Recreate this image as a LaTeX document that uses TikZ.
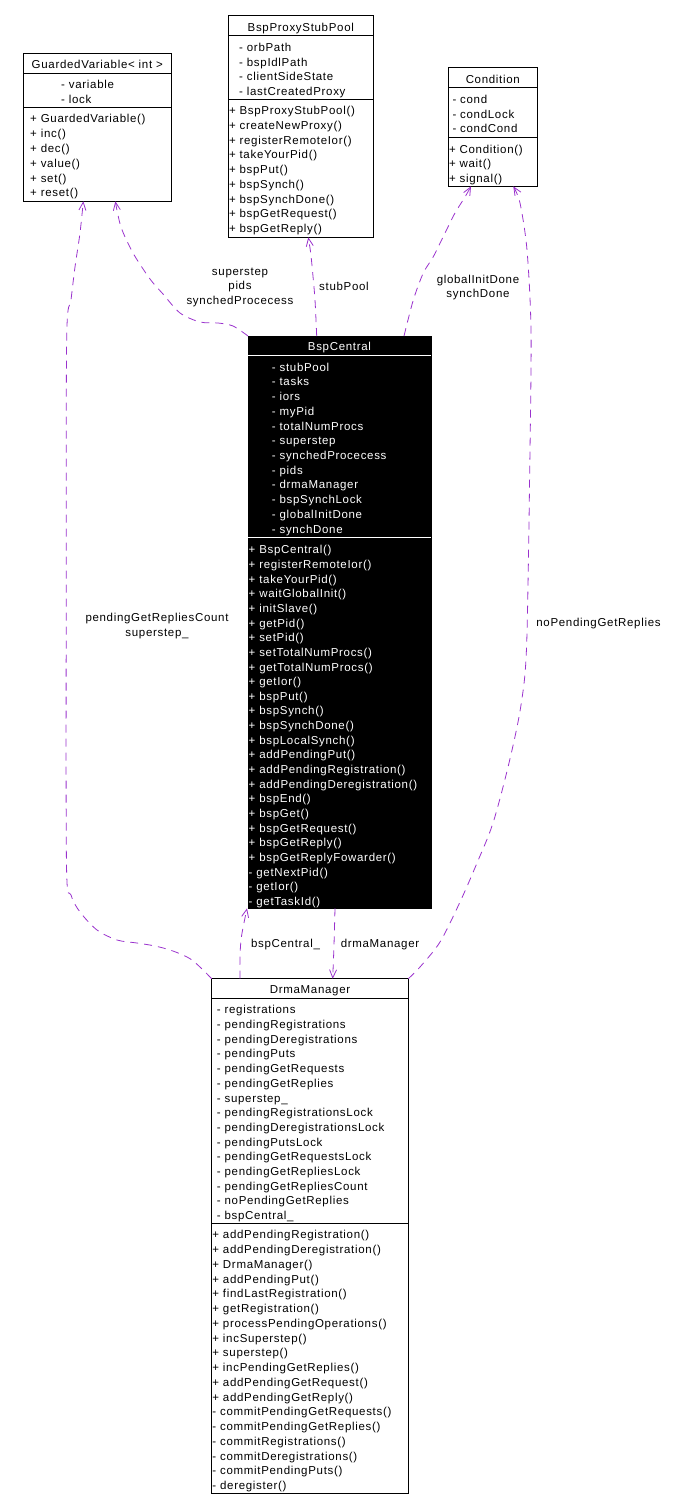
\documentclass[tikz,border=0pt]{standalone}
\usepackage{fontspec}
\setmainfont{Liberation Sans}
\newfontfamily\dfont[LetterSpace=6]{Liberation Sans}
\usetikzlibrary{arrows.meta}
\definecolor{edgec}{HTML}{9A32CD}
\begin{document}
\begin{tikzpicture}[x=1pt,y=-1pt,
  classbox/.style={draw=black, line width=0.9pt, inner sep=0pt, outer sep=0pt, anchor=north west},
  darkbox/.style={classbox, fill=black},
  txt/.style={font=\dfont\fontsize{11.5}{14.5}\selectfont, inner sep=0pt, anchor=base west},
  ttl/.style={txt, anchor=base},
  wtxt/.style={txt, text=white},
  wttl/.style={ttl, text=white},
  sep/.style={draw=black, line width=0.9pt},
  wsep/.style={draw=white, line width=0.9pt},
  elabel/.style={font=\dfont\fontsize{11.5}{14.5}\selectfont, align=center, inner sep=0pt},
  edge/.style={draw=edgec, line width=0.8pt, dash pattern=on 8pt off 6pt,
    -{Straight Barb[length=8pt,width=7pt]}}]
\useasboundingbox (0,0) rectangle (688,1510);

% ---------------- GuardedVariable< int >
\node[classbox, minimum width=148pt, minimum height=148pt] (gv) at (23.3,53.3) {};
\draw[sep] ([yshift=-20.4pt]gv.north west) -- ([yshift=-20.4pt]gv.north east);
\draw[sep] ([yshift=-54.4pt]gv.north west) -- ([yshift=-54.4pt]gv.north east);
\node[ttl] (gv-t) at (97.3,68.5) {GuardedVariable< int >};
\foreach \t [count=\i from 0] in {- variable, - lock}
  \node[txt] (gv-a\i) at (61,{88.8+\i*14.5}) {\t};
\foreach \t [count=\i from 0] in {+ GuardedVariable(), + inc(), + dec(), + value(), + set(), + reset()}
  \node[txt] (gv-m\i) at (30,{122.8+\i*14.8}) {\t};

% ---------------- BspProxyStubPool
\node[classbox, minimum width=145pt, minimum height=222pt] (bp) at (228.3,15.3) {};
\draw[sep] ([yshift=-20pt]bp.north west) -- ([yshift=-20pt]bp.north east);
\draw[sep] ([yshift=-84pt]bp.north west) -- ([yshift=-84pt]bp.north east);
\node[ttl] (bp-t) at (300.8,31.2) {BspProxyStubPool};
\foreach \t [count=\i from 0] in {- orbPath, - bspIdlPath, - clientSideState, - lastCreatedProxy}
  \node[txt] (bp-a\i) at (239,{51.2+\i*14.8}) {\t};
\foreach \t [count=\i from 0] in {+ BspProxyStubPool(), + createNewProxy(), + registerRemoteIor(), + takeYourPid(), + bspPut(), + bspSynch(), + bspSynchDone(), + bspGetRequest(), + bspGetReply()}
  \node[txt] (bp-m\i) at (228.8,{114.5+\i*14.75}) {\t};

% ---------------- Condition
\node[classbox, minimum width=89pt, minimum height=119pt] (cd) at (448.3,67.3) {};
\draw[sep] ([yshift=-20.4pt]cd.north west) -- ([yshift=-20.4pt]cd.north east);
\draw[sep] ([yshift=-69.7pt]cd.north west) -- ([yshift=-69.7pt]cd.north east);
\node[ttl] (cd-t) at (492.8,83.2) {Condition};
\foreach \t [count=\i from 0] in {- cond, - condLock, - condCond}
  \node[txt] (cd-a\i) at (452.3,{103.2+\i*14.8}) {\t};
\foreach \t [count=\i from 0] in {+ Condition(), + wait(), + signal()}
  \node[txt] (cd-m\i) at (448.8,{153.5+\i*14.4}) {\t};

% ---------------- BspCentral
\node[darkbox, minimum width=183pt, minimum height=572.3pt] (bc) at (248,336) {};
\draw[wsep] ([yshift=-19pt]bc.north west) -- ([yshift=-19pt]bc.north east);
\draw[wsep] ([yshift=-201.7pt]bc.north west) -- ([yshift=-201.7pt]bc.north east);
\node[wttl] (bc-t) at (339.5,350.2) {BspCentral};
\foreach \t [count=\i from 0] in {- stubPool, - tasks, - iors, - myPid, - totalNumProcs, - superstep, - synchedProcecess, - pids, - drmaManager, - bspSynchLock, - globalInitDone, - synchDone}
  \node[wtxt] (bc-a\i) at (271.7,{371.2+\i*14.71}) {\t};
\foreach \t [count=\i from 0] in {+ BspCentral(), + registerRemoteIor(), + takeYourPid(), + waitGlobalInit(), + initSlave(), + getPid(), + setPid(), + setTotalNumProcs(), + getTotalNumProcs(), + getIor(), + bspPut(), + bspSynch(), + bspSynchDone(), + bspLocalSynch(), + addPendingPut(), + addPendingRegistration(), + addPendingDeregistration(), + bspEnd(), + bspGet(), + bspGetRequest(), + bspGetReply(), + bspGetReplyFowarder(), - getNextPid(), - getIor(), - getTaskId()}
  \node[wtxt] (bc-m\i) at (248.5,{553.8+\i*14.65}) {\t};

% ---------------- DrmaManager
\node[classbox, minimum width=196.6pt, minimum height=514.6pt] (dm) at (211.7,978.7) {};
\draw[sep] ([yshift=-19.6pt]dm.north west) -- ([yshift=-19.6pt]dm.north east);
\draw[sep] ([yshift=-244.6pt]dm.north west) -- ([yshift=-244.6pt]dm.north east);
\node[ttl] (dm-t) at (310,993.8) {DrmaManager};
\foreach \t [count=\i from 0] in {- registrations, - pendingRegistrations, - pendingDeregistrations, - pendingPuts, - pendingGetRequests, - pendingGetReplies, - superstep\_, - pendingRegistrationsLock, - pendingDeregistrationsLock, - pendingPutsLock, - pendingGetRequestsLock, - pendingGetRepliesLock, - pendingGetRepliesCount, - noPendingGetReplies, - bspCentral\_}
  \node[txt] (dm-a\i) at (216.7,{1013.8+\i*14.7}) {\t};
\foreach \t [count=\i from 0] in {+ addPendingRegistration(), + addPendingDeregistration(), + DrmaManager(), + addPendingPut(), + findLastRegistration(), + getRegistration(), + processPendingOperations(), + incSuperstep(), + superstep(), + incPendingGetReplies(), + addPendingGetRequest(), + addPendingGetReply(), - commitPendingGetRequests(), - commitPendingGetReplies(), - commitRegistrations(), - commitDeregistrations(), - commitPendingPuts(), - deregister()}
  \node[txt] (dm-m\i) at (212.2,{1238.8+\i*14.75}) {\t};

% ---------------- connectors
% DrmaManager -> GuardedVariable
\draw[edge] plot[smooth, tension=0.5] coordinates {(dm.north west) (192,960) (173,951) (155,946) (137,943) (117,940) (97,930) (80,912) (71,895) (66.5,865) (66.2,600) (66.7,338) (71,300) (75,267) (80,233) ([xshift=60pt]gv.south west)};
% BspCentral -> GuardedVariable
\draw[edge] plot[smooth, tension=0.5] coordinates {(bc.north west) (233,326) (218,323) (200,322) (180,313) (163,294) (150,279) (133,253) (121,227) ([xshift=92pt]gv.south west)};
% BspCentral -> BspProxyStubPool
\draw[edge] plot[smooth, tension=0.5] coordinates {([xshift=68.7pt]bc.north west) (315,300) (312.7,273) (310.7,253) ([xshift=80pt]bp.south west)};
% BspCentral -> Condition
\draw[edge] plot[smooth, tension=0.5] coordinates {([xshift=156pt]bc.north west) (413.3,300) (423.3,273) (433.3,256.7) (445,233) (455,213) (465,197) ([xshift=22.7pt]cd.south west)};
% DrmaManager -> Condition
\draw[edge] plot[smooth, tension=0.5] coordinates {(dm.north east) (420,967) (440,942) (460,902) (477,863) (493,823) (509,763) (521,705) (526.7,643) (530,450) (531,330) (527,250) (520,203) ([xshift=65pt]cd.south west)};
% DrmaManager -> BspCentral
\draw[edge] plot[smooth, tension=0.5] coordinates {([xshift=28.3pt]dm.north west) (240,955) (241.7,935) ([xshift=-1pt]bc.south west)};
% BspCentral -> DrmaManager
\draw[edge] plot[smooth, tension=0.5] coordinates {([xshift=87pt]bc.south west) (334,945) ([xshift=121pt]dm.north west)};

% ---------------- connector labels
\node[elabel] (l-gv2) at (240,287) {superstep\\pids\\synchedProcecess};
\node[elabel] (l-bp) at (344,286.7) {stubPool};
\node[elabel] (l-cd1) at (478,287.7) {globalInitDone\\synchDone};
\node[elabel] (l-gv1) at (157,625.8) {pendingGetRepliesCount\\superstep\_};
\node[elabel] (l-cd2) at (598.5,623.3) {noPendingGetReplies};
\node[elabel] (l-bc) at (285.5,945) {bspCentral\_};
\node[elabel] (l-dm) at (380,945) {drmaManager};
\end{tikzpicture}
\end{document}
